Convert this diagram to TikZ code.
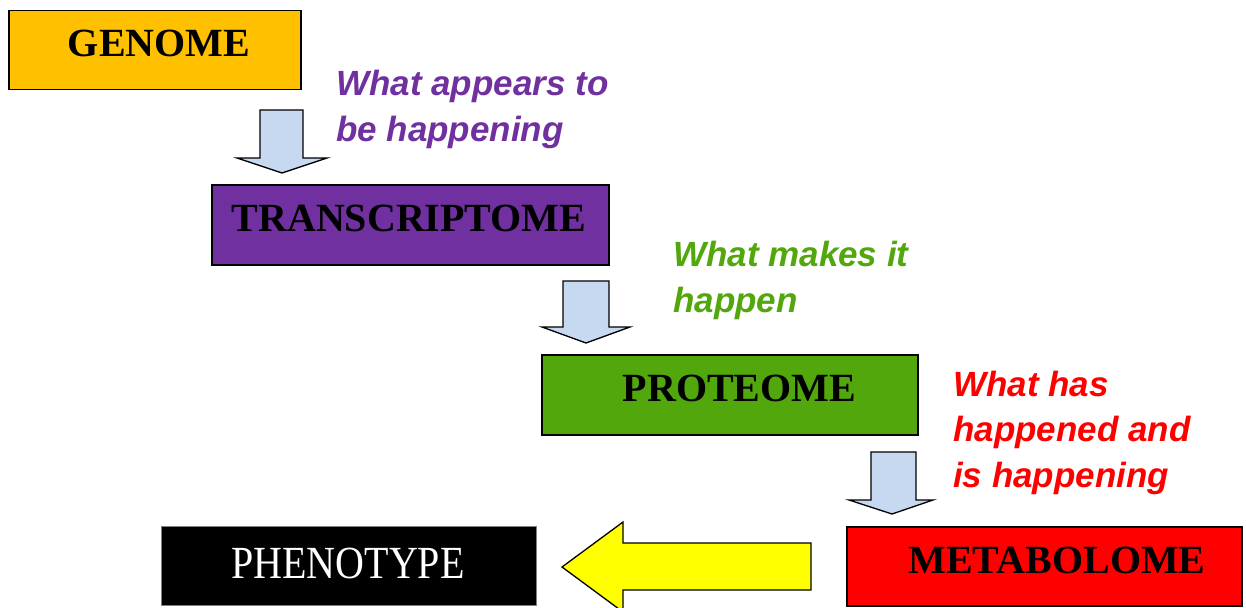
\documentclass[tikz,border=0pt]{standalone}
\usepackage{fontspec}
\setmainfont{Liberation Serif}
\newfontfamily\lblfont{Liberation Sans}
\definecolor{genomec}{HTML}{FFC000}
\definecolor{purplec}{HTML}{7030A0}
\definecolor{greenc}{HTML}{52A70C}
\definecolor{arrowblue}{HTML}{C6D9F1}
\definecolor{yellowc}{HTML}{FFFF00}
\begin{document}
\begin{tikzpicture}[x=1pt,y=-1pt,
  box/.style={draw=black,line width=1.5pt,inner sep=0pt,anchor=north west},
  boxtxt/.style={anchor=base,inner sep=0pt,font=\fontsize{40}{40}\selectfont\bfseries},
  lbl/.style={anchor=base west,inner sep=0pt,align=left,font=\lblfont\fontsize{35}{45.5}\selectfont\bfseries\itshape},
  blockarrow/.style={draw=black,line width=1.3pt,line join=miter}]
\useasboundingbox (0,0) rectangle (1246,607);
\fill[white] (0,0) rectangle (1246,607);
% boxes
\node[box,fill=genomec,minimum width=292pt,minimum height=79pt] (genome) at (8,10) {};
\node[box,fill=purplec,minimum width=397pt,minimum height=80pt] (transcriptome) at (211,184) {};
\node[box,fill=greenc,minimum width=376pt,minimum height=80pt] (proteome) at (541,354) {};
\node[box,fill=red,minimum width=395pt,minimum height=79pt] (metabolome) at (846,526) {};
\node[box,fill=black,draw=gray,line width=1pt,minimum width=375pt,minimum height=79pt] (phenotype) at (161,526) {};
% box texts
\node[boxtxt] (tgenome) at (159,57) {GENOME};
\node[boxtxt] (ttranscriptome) at (409,231) {TRANSCRIPTOME};
\node[boxtxt] (tproteome) at (739.5,401) {PROTEOME};
\node[boxtxt] (tmetabolome) at (1057,573) {METABOLOME};
\node[anchor=base,inner sep=0pt,text=white,font=\fontsize{40}{40}\selectfont] (tphenotype) at (348,578) {\scalebox{1}[1.15]{PHENOTYPE}};
% labels (anchor at baseline of last line)
\node[lbl,text=purplec] (l1) at (336,141) {What appears to\\be happening};
\node[lbl,text=greenc] (l2) at (673,312) {What makes it\\happen};
\node[lbl,text=red] (l3) at (953,487) {What has\\happened and\\is happening};
% down arrows
\draw[blockarrow,fill=arrowblue] (260,110) -- (303,110) -- (303,158) -- (327,158) -- (282,173) -- (237,158) -- (260,158) -- cycle;
\draw[blockarrow,fill=arrowblue] (563,281) -- (609,281) -- (609,327) -- (630,327) -- (586,343) -- (542,327) -- (563,327) -- cycle;
\draw[blockarrow,fill=arrowblue] (871,452) -- (916,452) -- (916,500) -- (933,500) -- (892,514) -- (849,500) -- (871,500) -- cycle;
% yellow left arrow
\draw[blockarrow,fill=yellowc] (811,543) -- (623,543) -- (623,522) -- (562,567) -- (623,612) -- (623,590) -- (811,590) -- cycle;
\end{tikzpicture}
\end{document}
